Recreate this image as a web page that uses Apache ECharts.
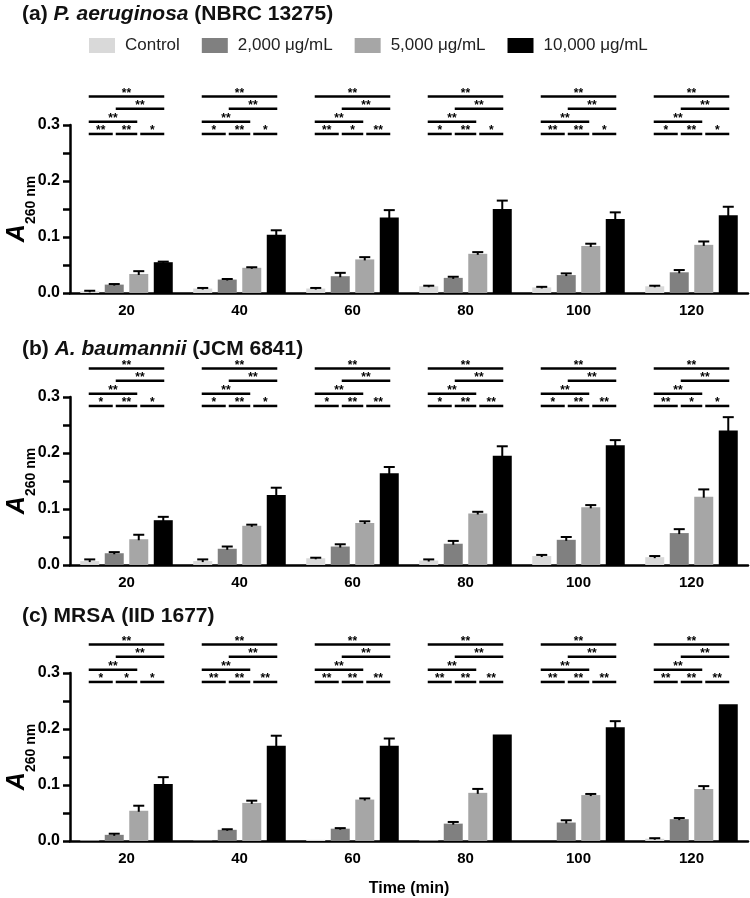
<!DOCTYPE html>
<html><head><meta charset="utf-8">
<script src="https://cdn.jsdelivr.net/npm/echarts@6/dist/echarts.min.js"></script>
<style>html,body{margin:0;padding:0;background:#fff}#c{width:750px;height:898px}</style>
</head><body><div id="c"></div>
<script>
// ---------------- DATA ----------------
const categories = ['20', '40', '60', '80', '100', '120'];
const seriesNames = ['Control', '2,000 μg/mL', '5,000 μg/mL', '10,000 μg/mL'];
const yTicks = [0.0, 0.1, 0.2, 0.3];

// (a) P. aeruginosa — means and SD (upper error)
const aControl   = [0.003, 0.008, 0.008, 0.012, 0.010, 0.012];
const aControlSD = [0.001, 0.001, 0.001, 0.001, 0.001, 0.001];
const a2000      = [0.015, 0.024, 0.030, 0.027, 0.032, 0.037];
const a2000SD    = [0.001, 0.001, 0.006, 0.002, 0.003, 0.004];
const a5000      = [0.034, 0.045, 0.060, 0.070, 0.084, 0.086];
const a5000SD    = [0.005, 0.001, 0.004, 0.003, 0.004, 0.006];
const a10000     = [0.055, 0.104, 0.135, 0.150, 0.132, 0.139];
const a10000SD   = [0.001, 0.008, 0.013, 0.015, 0.012, 0.015];

// (b) A. baumannii
const bControl   = [0.007, 0.007, 0.012, 0.008, 0.016, 0.014];
const bControlSD = [0.003, 0.003, 0.001, 0.002, 0.002, 0.002];
const b2000      = [0.021, 0.029, 0.033, 0.038, 0.045, 0.057];
const b2000SD    = [0.002, 0.004, 0.004, 0.005, 0.005, 0.007];
const b5000      = [0.046, 0.070, 0.075, 0.092, 0.103, 0.122];
const b5000SD    = [0.008, 0.002, 0.003, 0.003, 0.004, 0.013];
const b10000     = [0.080, 0.125, 0.164, 0.195, 0.214, 0.240];
const b10000SD   = [0.006, 0.013, 0.011, 0.017, 0.009, 0.024];

// (c) MRSA
const cControl   = [0.001, 0.0005, 0.002, 0.001, 0.0, 0.004];
const cControlSD = [0.0, 0.0, 0.0, 0.0, 0.0, 0.001];
const c2000      = [0.011, 0.020, 0.022, 0.031, 0.033, 0.039];
const c2000SD    = [0.002, 0.001, 0.001, 0.003, 0.004, 0.002];
const c5000      = [0.054, 0.068, 0.074, 0.086, 0.082, 0.093];
const c5000SD    = [0.009, 0.004, 0.002, 0.007, 0.002, 0.005];
const c10000     = [0.102, 0.170, 0.170, 0.190, 0.203, 0.244];
const c10000SD   = [0.012, 0.018, 0.013, 0.0, 0.011, 0.0];

// Significance per time point, order: C-2k, 2k-5k, 5k-10k, C-5k, 2k-10k, C-10k
const aSig = [
  ['**', '**', '*', '**', '**', '**'],
  ['*', '**', '*', '**', '**', '**'],
  ['**', '*', '**', '**', '**', '**'],
  ['*', '**', '*', '**', '**', '**'],
  ['**', '**', '*', '**', '**', '**'],
  ['*', '**', '*', '**', '**', '**']
];
const bSig = [
  ['*', '**', '*', '**', '**', '**'],
  ['*', '**', '*', '**', '**', '**'],
  ['*', '**', '**', '**', '**', '**'],
  ['*', '**', '**', '**', '**', '**'],
  ['*', '**', '**', '**', '**', '**'],
  ['**', '*', '*', '**', '**', '**']
];
const cSig = [
  ['*', '*', '*', '**', '**', '**'],
  ['**', '**', '**', '**', '**', '**'],
  ['**', '**', '**', '**', '**', '**'],
  ['**', '**', '**', '**', '**', '**'],
  ['**', '**', '**', '**', '**', '**'],
  ['**', '**', '**', '**', '**', '**']
];

// ---------------- STYLE / LAYOUT ----------------
const FONT = '"Liberation Sans", Arial, Helvetica, sans-serif';
const COLORS = ['#d9d9d9', '#808080', '#a6a6a6', '#000000'];
const BAR_W = 19;
const BAR_GAP_PCT = 29;
const PITCH = BAR_W * (1 + BAR_GAP_PCT / 100);
const PAIRS = [[0, 1, 0], [1, 2, 0], [2, 3, 0], [0, 2, 1], [1, 3, 2], [0, 3, 3]];
const ROW_LEVELS = [0.284, 0.306, 0.329, 0.351];
const GRID_TOPS = [125, 397, 673];
const GRID_H = 168;

const panels = [
  { title: '{p|(a) }{i|P. aeruginosa}{p| (NBRC 13275)}', titleTop: 4,
    means: [aControl, a2000, a5000, a10000], sds: [aControlSD, a2000SD, a5000SD, a10000SD], sig: aSig },
  { title: '{p|(b) }{i|A. baumannii}{p| (JCM 6841)}', titleTop: 339,
    means: [bControl, b2000, b5000, b10000], sds: [bControlSD, b2000SD, b5000SD, b10000SD], sig: bSig },
  { title: '{p|(c) MRSA (IID 1677)}', titleTop: 606,
    means: [cControl, c2000, c5000, c10000], sds: [cControlSD, c2000SD, c5000SD, c10000SD], sig: cSig }
];

function barOffset(i) { return (i - 1.5) * PITCH; }

function errorRender(params, api) {
  const ci = api.value(0), si = api.value(1), m = api.value(2), up = api.value(3);
  if (up - m <= 0) return null;
  const cx = api.coord([ci, 0])[0] + barOffset(si);
  const y0 = api.coord([ci, m])[1] + 1;
  const y1 = api.coord([ci, up])[1];
  const st = { stroke: '#000', lineWidth: 2 };
  return { type: 'group', children: [
    { type: 'line', shape: { x1: cx, y1: y0, x2: cx, y2: y1 }, style: st },
    { type: 'line', shape: { x1: cx - 5.5, y1: y1, x2: cx + 5.5, y2: y1 }, style: st }
  ]};
}

function makeBracketRender(labels) {
  return function (params, api) {
    const ci = api.value(0), k = api.value(1);
    const [from, to, row] = PAIRS[k];
    const c = api.coord([ci, ROW_LEVELS[row]]);
    const y = c[1];
    const x1 = c[0] + barOffset(from) + (from > 0 ? 1.5 : -1);
    const x2 = c[0] + barOffset(to) - (to < 3 ? 1.5 : -1);
    return { type: 'group', children: [
      { type: 'line', shape: { x1: x1, y1: y, x2: x2, y2: y }, style: { stroke: '#000', lineWidth: 2.5 } },
      { type: 'text', style: { text: labels[params.dataIndex], x: (x1 + x2) / 2, y: y + 3,
          align: 'center', verticalAlign: 'bottom', font: 'bold 12px ' + FONT, fill: '#000' } }
    ]};
  };
}

const grids = [], xAxes = [], yAxes = [], series = [], titles = [];
panels.forEach((p, pi) => {
  grids.push({ left: 70, right: 2, top: GRID_TOPS[pi], height: GRID_H, containLabel: false, outerBoundsMode: 'none' });
  titles.push({ text: p.title, left: 22, top: p.titleTop, padding: 0,
    textStyle: { rich: {
      p: { fontSize: 21, fontWeight: 'bold', fontFamily: FONT, color: '#111' },
      i: { fontSize: 21, fontWeight: 'bold', fontStyle: 'italic', fontFamily: FONT, color: '#111' }
    } } });
  xAxes.push({
    gridIndex: pi, type: 'category', data: categories,
    axisLine: { lineStyle: { color: '#000', width: 2.5 } },
    axisTick: { alignWithLabel: true, length: 7, lineStyle: { color: '#000', width: 2.5 } },
    axisLabel: { fontSize: 15, fontWeight: 'bold', color: '#000', fontFamily: FONT, margin: 10 },
    name: pi === 2 ? 'Time (min)' : '', nameLocation: 'middle', nameGap: 40, nameMoveOverlap: false,
    nameTextStyle: { fontSize: 16, fontWeight: 'bold', color: '#000', fontFamily: FONT }
  });
  yAxes.push({
    gridIndex: pi, type: 'value', min: yTicks[0], max: yTicks[yTicks.length - 1], interval: yTicks[1] - yTicks[0],
    axisLine: { show: true, lineStyle: { color: '#000', width: 2.5 } },
    axisTick: { show: true, length: 7, lineStyle: { color: '#000', width: 2.5 } },
    minorTick: { show: true, splitNumber: 2, length: 7, lineStyle: { color: '#000', width: 2.5 } },
    splitLine: { show: false },
    axisLabel: { fontSize: 16, fontWeight: 'bold', color: '#000', fontFamily: FONT, margin: 10,
      formatter: v => v.toFixed(1) },
    name: '{a|A}{s|260 nm}', nameLocation: 'middle', nameRotate: 90, nameGap: 39, nameMoveOverlap: false,
    nameTextStyle: { color: '#000', rich: {
      a: { fontSize: 25, fontWeight: 'bold', fontStyle: 'italic', fontFamily: FONT, color: '#000', lineHeight: 26, verticalAlign: 'top' },
      s: { fontSize: 14, fontWeight: 'bold', fontFamily: FONT, color: '#000', lineHeight: 14, verticalAlign: 'top', padding: [19, 0, 0, 0] }
    } }
  });
  p.means.forEach((arr, si) => {
    series.push({
      type: 'bar', name: seriesNames[si], xAxisIndex: pi, yAxisIndex: pi,
      data: arr, barWidth: BAR_W, barGap: BAR_GAP_PCT + '%',
      itemStyle: { color: COLORS[si] }, z: 2, animation: false
    });
  });
  const errData = [];
  p.means.forEach((arr, si) => arr.forEach((m, ci) => errData.push([ci, si, m, m + p.sds[si][ci]])));
  series.push({ type: 'custom', xAxisIndex: pi, yAxisIndex: pi, renderItem: errorRender,
    data: errData, z: 3, animation: false, silent: true });
  const brData = [], brLabels = [];
  p.sig.forEach((row, ci) => row.forEach((lab, k) => { brData.push([ci, k]); brLabels.push(lab); }));
  series.push({ type: 'custom', xAxisIndex: pi, yAxisIndex: pi, renderItem: makeBracketRender(brLabels),
    data: brData, clip: false, z: 4, animation: false, silent: true });
});

const chart = echarts.init(document.getElementById('c'), null, { renderer: 'canvas' });
chart.setOption({
  backgroundColor: '#fff',
  animation: false,
  title: titles,
  legend: {
    data: seriesNames, left: 89, top: 37, padding: 0, itemWidth: 26, itemHeight: 15, itemGap: 22,
    icon: 'rect', selectedMode: false,
    textStyle: { fontSize: 17, color: '#222', fontFamily: FONT, padding: [0, 0, 0, 5] }
  },
  grid: grids, xAxis: xAxes, yAxis: yAxes, series: series
});
</script></body></html>
